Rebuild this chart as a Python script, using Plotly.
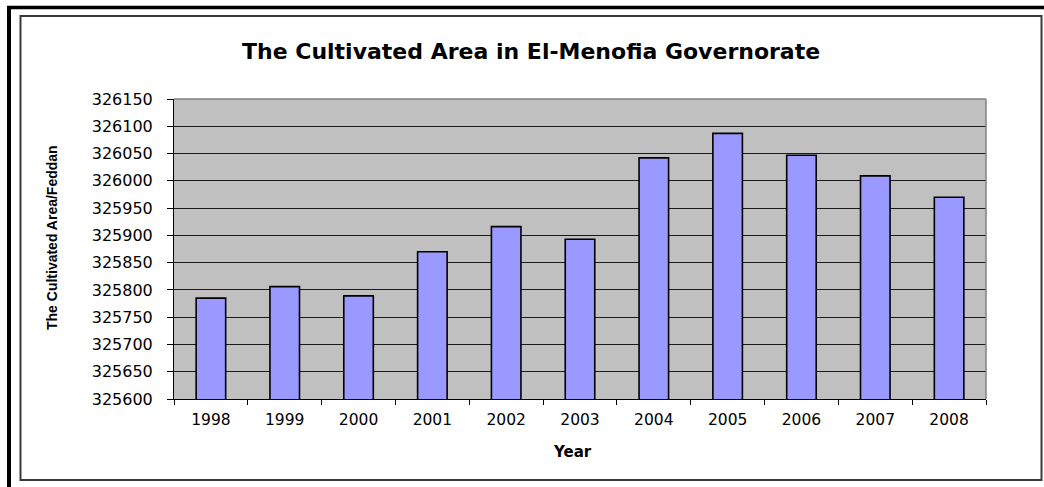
import plotly.graph_objects as go

years = ["1998", "1999", "2000", "2001", "2002", "2003", "2004", "2005", "2006", "2007", "2008"]
area = [325785, 325806, 325789, 325870, 325916, 325893, 326042, 326087, 326047, 326009, 325970]
y_ticks = list(range(325600, 326151, 50))

title_text = "The Cultivated Area in El-Menofia Governorate"
x_title = "Year"
y_title = "The Cultivated Area/Feddan"

W, H = 1044, 487
L, R, T, B = 174, 58, 99, 88
PW, PH = W - L - R, H - T - B


def xp(px):
    return (px - L) / PW


def yp(py):
    return (H - B - py) / PH


fig = go.Figure(
    go.Bar(
        x=years,
        y=area,
        marker=dict(color="#9999FF", line=dict(color="black", width=1.6)),
    )
)

fig.update_layout(
    width=W,
    height=H,
    margin=dict(l=L, r=R, t=T, b=B),
    paper_bgcolor="white",
    plot_bgcolor="#C0C0C0",
    bargap=0.6,
    showlegend=False,
    font=dict(family="DejaVu Sans", color="black", size=15),
)

fig.update_xaxes(
    type="category",
    showline=True,
    linecolor="black",
    linewidth=1,
    ticks="outside",
    tickson="boundaries",
    ticklen=5,
    tickcolor="black",
    showgrid=False,
    tickfont=dict(family="DejaVu Sans", size=15.5, color="black"),
    ticklabelstandoff=6,
)

fig.update_yaxes(
    range=[325600, 326150],
    tickvals=y_ticks,
    tickformat="d",
    showline=True,
    linecolor="black",
    linewidth=1,
    ticks="outside",
    ticklen=6,
    tickcolor="black",
    showgrid=True,
    gridcolor="#1a1a1a",
    gridwidth=1,
    zeroline=False,
    tickfont=dict(family="DejaVu Sans", size=16, color="black"),
    ticklabelstandoff=11,
)

shapes = [
    # inner chart-area border
    dict(type="rect", xref="paper", yref="paper",
         x0=xp(20.5), x1=xp(1041.5), y0=yp(480), y1=yp(16),
         line=dict(color="#3a3a3a", width=2)),
    # outer thick frame (top and left)
    dict(type="line", xref="paper", yref="paper",
         x0=xp(7), x1=xp(1044), y0=yp(7.5), y1=yp(7.5),
         line=dict(color="black", width=3.5)),
    dict(type="line", xref="paper", yref="paper",
         x0=xp(9), x1=xp(9), y0=yp(6), y1=yp(487),
         line=dict(color="black", width=4)),
    # plot-area top and right borders (grey)
    dict(type="line", xref="paper", yref="paper",
         x0=0, x1=1, y0=1, y1=1, layer="above",
         line=dict(color="#808080", width=1.5)),
    dict(type="line", xref="paper", yref="paper",
         x0=1, x1=1, y0=0, y1=1, layer="above",
         line=dict(color="#808080", width=1.5)),
]
fig.update_layout(shapes=shapes)

annotations = [
    dict(text="<b>" + title_text + "</b>", xref="paper", yref="paper",
         x=xp(531), y=yp(51), showarrow=False, xanchor="center", yanchor="middle",
         font=dict(family="DejaVu Sans", size=22, color="black")),
    dict(text="<b>" + x_title + "</b>", xref="paper", yref="paper",
         x=xp(572), y=yp(452), showarrow=False, xanchor="center", yanchor="middle",
         font=dict(family="DejaVu Sans", size=15, color="black")),
    dict(text="<b>" + y_title + "</b>", xref="paper", yref="paper",
         x=xp(52), y=yp(237), showarrow=False, xanchor="center", yanchor="middle",
         textangle=-90,
         font=dict(family="Liberation Sans", size=14, color="black")),
]
fig.update_layout(annotations=annotations)

fig.write_html(
    "out.html",
    config={"displayModeBar": False},
    post_script=(
        "document.documentElement.style.overflow='hidden';"
        "document.body.style.overflow='hidden';"
        "document.body.style.margin='0px';document.body.style.padding='0px';"
    ),
)
